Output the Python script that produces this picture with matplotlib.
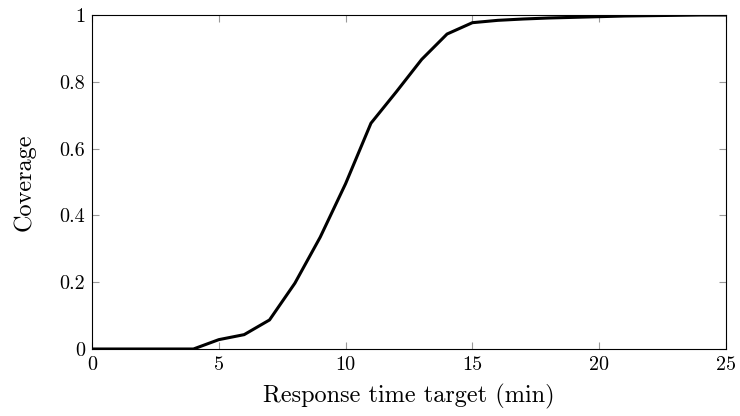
import matplotlib
matplotlib.use('Agg')
import matplotlib.pyplot as plt

plt.rcParams['font.family'] = 'cmr10'
plt.rcParams['mathtext.fontset'] = 'cm'
plt.rcParams['axes.formatter.use_mathtext'] = True

# response time target (min) vs coverage
minutes = list(range(0, 26))
coverage = [0, 0, 0, 0, 0, 0.028, 0.043, 0.087, 0.197, 0.335, 0.495, 0.676,
            0.77, 0.867, 0.943, 0.977, 0.984, 0.988, 0.991, 0.993, 0.995,
            0.997, 0.998, 0.999, 1.0, 1.0]
xticks = [0, 5, 10, 15, 20, 25]
yticks = [0, 0.2, 0.4, 0.6, 0.8, 1]

fig = plt.figure(figsize=(7.4, 4.16), dpi=100)
ax = fig.add_axes([92/740, 1-349/416, 634/740, 334/416])

ax.plot(minutes, coverage, color='black', linewidth=2.2)

ax.set_xlim(0, 25)
ax.set_ylim(0, 1)
ax.set_xticks(xticks)
ax.set_yticks(yticks)
ax.set_xticklabels([str(t) for t in xticks])
ax.set_yticklabels(['0', '0.2', '0.4', '0.6', '0.8', '1'])
ax.tick_params(direction='in', length=5, color='#999999', labelsize=14.5,
               top=True, right=True, pad=5)
for s in ax.spines.values():
    s.set_linewidth(0.8)

ax.set_xlabel('Response time target (min)', fontsize=17.5, labelpad=7)
ax.set_ylabel('Coverage', fontsize=17.5, labelpad=17)

fig.savefig('out.png', dpi=100)
